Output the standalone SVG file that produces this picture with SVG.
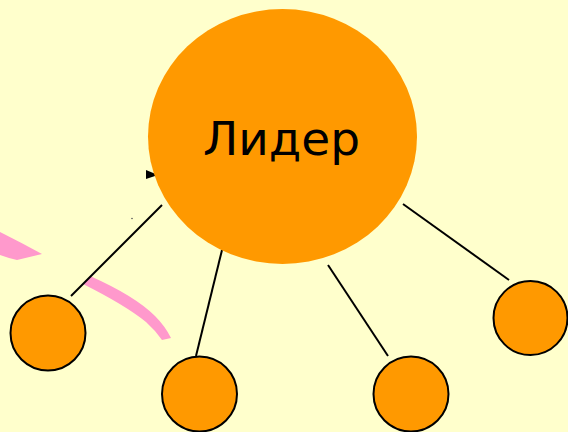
<svg xmlns="http://www.w3.org/2000/svg" width="568" height="432" viewBox="0 0 568 432">
  <style>
    .small { fill: #FF9900; stroke: #000000; stroke-width: 2; }
    .conn { stroke: #000000; stroke-width: 2; fill: none; }
    .pink { fill: #FF99CC; stroke: none; }
    .label { font-family: "DejaVu Sans", Verdana, sans-serif; font-size: 47px; fill: #000000; }
  </style>
  <rect x="0" y="0" width="568" height="432" fill="#FFFFCC"/>
  <g id="decor">
    <path class="pink" d="M0,232 Q22,243 42,254 L17,260 Q8,258 0,255 Z"/>
    <path class="pink" d="M90,276 Q135,296 155,316 Q165,326 171,338 L162,340 Q155,330 146,322 Q125,305 83,284 Z"/>
    <polygon points="146,170 158,175 146,179" fill="#000000"/>
    <circle cx="132" cy="218.5" r="0.8" fill="#555555"/>
  </g>
  <g id="connectors">
    <line class="conn" x1="71" y1="296" x2="162" y2="205"/>
    <line class="conn" x1="196" y1="356" x2="222" y2="250"/>
    <line class="conn" x1="328" y1="265" x2="388" y2="356"/>
    <line class="conn" x1="403" y1="204" x2="509" y2="280"/>
  </g>
  <g id="leader">
    <ellipse cx="282.5" cy="136.5" rx="134.5" ry="127.5" fill="#FF9900"/>
    <text class="label" x="281.5" y="155" text-anchor="middle">Лидер</text>
  </g>
  <g id="member1"><circle class="small" cx="48" cy="333" r="37.5"/></g>
  <g id="member2"><circle class="small" cx="199.5" cy="394" r="37.5"/></g>
  <g id="member3"><circle class="small" cx="411" cy="394" r="37.5"/></g>
  <g id="member4"><circle class="small" cx="530.5" cy="318" r="37"/></g>
</svg>
